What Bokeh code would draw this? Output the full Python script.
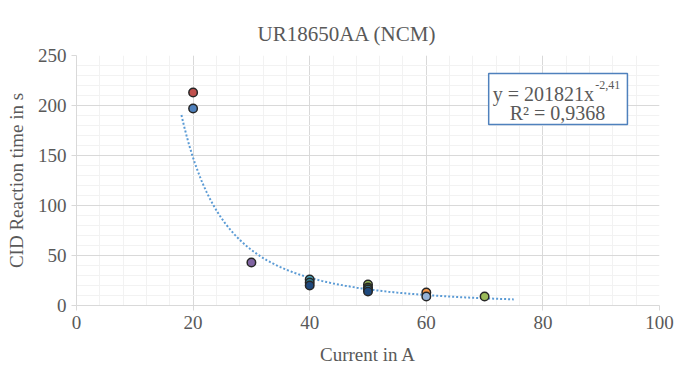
import numpy as np
from bokeh.plotting import figure
from bokeh.models import Label, BoxAnnotation, FixedTicker, ColumnDataSource, Range1d
from bokeh.embed import file_html
from bokeh.resources import INLINE

# data
title_text = "UR18650AA (NCM)"
current = [20, 20, 30, 40, 40, 40, 50, 50, 50, 50, 60, 60, 70]
reaction_time = [213, 197, 43, 26, 23, 20, 21, 18, 16, 14, 13, 9, 9]
point_colors = ["#C0504D", "#4F81BD", "#8064A2", "#4BACC6", "#31859C", "#1F497D",
                "#9BBB59", "#4F6228", "#4BACC6", "#1F497D", "#F79646", "#95B3D7", "#9BBB59"]
fit_a = 201821
fit_b = -2.41
fit_r2 = "0,9368"
fit_x_start, fit_x_end = 18, 75
x_ticks = [0, 20, 40, 60, 80, 100]
y_ticks = [0, 50, 100, 150, 200, 250]

FONT = "Liberation Serif"
GRAY = "#595959"

p = figure(width=675, height=367, output_backend="svg", toolbar_location=None,
           x_range=Range1d(0, 100), y_range=Range1d(0, 250),
           min_border_left=76, min_border_right=16, min_border_top=55, min_border_bottom=61)
p.title.text = title_text
p.title.align = "left"
p.title.text_font = FONT
p.title.text_font_size = "21px"
p.title.text_font_style = "normal"
p.title.text_color = GRAY
p.title.standoff = 20
p.title.offset = 181
p.outline_line_color = None

for ax in (p.xaxis, p.yaxis):
    ax.axis_line_color = "#D9D9D9"
    ax.major_tick_line_color = "#D9D9D9"
    ax.minor_tick_line_color = None
    ax.major_tick_in = 0
    ax.major_tick_out = 5
    ax.major_label_text_font = FONT
    ax.major_label_text_font_size = "19px"
    ax.major_label_text_color = GRAY
    ax.axis_label_text_font = FONT
    ax.axis_label_text_font_size = "19px"
    ax.axis_label_text_font_style = "normal"
    ax.axis_label_text_color = GRAY

p.xaxis.ticker = FixedTicker(ticks=x_ticks, minor_ticks=list(range(0, 101, 4)))
p.yaxis.ticker = FixedTicker(ticks=y_ticks, minor_ticks=list(range(0, 251, 10)))
p.xaxis.axis_label = "Current in A"
p.yaxis.axis_label = "CID Reaction time in s"
p.xaxis.axis_label_standoff = 12
p.yaxis.axis_label_standoff = 8

p.xgrid.grid_line_color = "#D9D9D9"
p.ygrid.grid_line_color = "#D9D9D9"
p.xgrid.minor_grid_line_color = "#F2F2F2"
p.ygrid.minor_grid_line_color = "#F2F2F2"

# trend line
xf = np.linspace(fit_x_start, fit_x_end, 200)
yf = fit_a * xf ** fit_b
p.line(xf, yf, line_color="#5B9BD5", line_width=2, line_dash="2 2")

src = ColumnDataSource(dict(x=current, y=reaction_time, c=point_colors))
p.scatter("x", "y", source=src, size=8.5, fill_color="c", line_color="#262626", line_width=1.5)

# equation box
p.add_layout(BoxAnnotation(left=70.7, right=94.5, bottom=181, top=232,
                           fill_color="white", fill_alpha=1,
                           line_color="#4F81BD", line_alpha=1, line_width=1.5))
p.add_layout(Label(x=71.4, y=212, text="y = %dx" % fit_a, text_font=FONT,
                   text_font_size="20px", text_color=GRAY, text_baseline="middle"))
p.add_layout(Label(x=89.0, y=221, text=("%.2f" % fit_b).replace(".", ","), text_font=FONT,
                   text_font_size="12px", text_color=GRAY, text_baseline="middle"))
p.add_layout(Label(x=82.5, y=193, text="R² = " + fit_r2, text_font=FONT,
                   text_font_size="20px", text_color=GRAY, text_baseline="middle",
                   text_align="center"))

open("out.html", "w").write(file_html(p, INLINE))
